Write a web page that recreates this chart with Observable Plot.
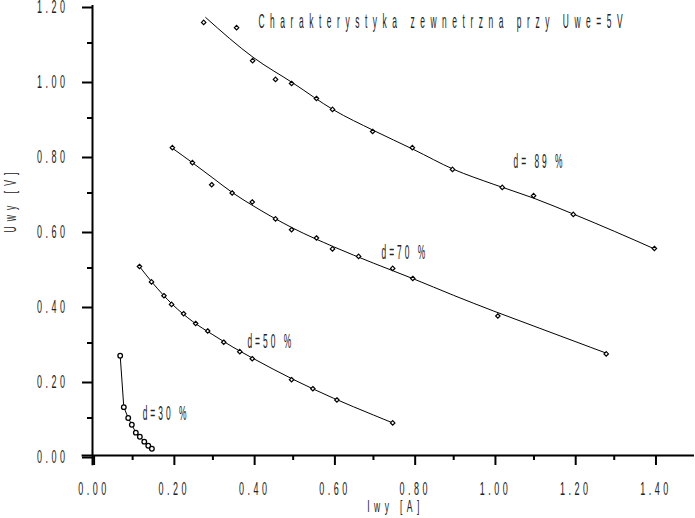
<!DOCTYPE html>
<html><head><meta charset="utf-8">
<script src="https://cdn.jsdelivr.net/npm/d3@7"></script>
<script src="https://cdn.jsdelivr.net/npm/@observablehq/plot@0.6"></script>
<style>html,body{margin:0;padding:0;background:#fff;}</style>
</head><body><div id="chart"></div>
<script>
// ---- data ----
const d89X = [0.277, 0.359, 0.399, 0.456, 0.496, 0.558, 0.598, 0.698, 0.797, 0.897, 1.021, 1.099, 1.198, 1.400];
const d89Y = [1.155, 1.141, 1.053, 1.003, 0.992, 0.952, 0.923, 0.864, 0.821, 0.763, 0.715, 0.693, 0.643, 0.552];
const d89FitX = [0.282, 0.40, 0.50, 0.60, 0.70, 0.80, 0.90, 1.00, 1.10, 1.20, 1.30, 1.40];
const d89FitY = [1.168, 1.062, 0.993, 0.922, 0.867, 0.816, 0.763, 0.723, 0.686, 0.643, 0.598, 0.551];

const d70X = [0.199, 0.249, 0.297, 0.348, 0.398, 0.456, 0.496, 0.558, 0.598, 0.663, 0.748, 0.798, 1.010, 1.280];
const d70Y = [0.821, 0.781, 0.722, 0.700, 0.676, 0.631, 0.602, 0.580, 0.551, 0.531, 0.499, 0.472, 0.372, 0.271];
const d70FitX = [0.197, 0.25, 0.30, 0.35, 0.40, 0.50, 0.60, 0.70, 0.80, 0.90, 1.00, 1.10, 1.20, 1.28];
const d70FitY = [0.821, 0.780, 0.740, 0.700, 0.666, 0.606, 0.557, 0.513, 0.471, 0.427, 0.385, 0.345, 0.305, 0.273];

const d50X = [0.117, 0.147, 0.178, 0.197, 0.227, 0.257, 0.287, 0.327, 0.367, 0.398, 0.496, 0.549, 0.609, 0.748];
const d50Y = [0.504, 0.463, 0.426, 0.403, 0.378, 0.352, 0.332, 0.302, 0.277, 0.258, 0.202, 0.178, 0.148, 0.087];
const d50FitX = [0.117, 0.15, 0.20, 0.25, 0.30, 0.35, 0.40, 0.50, 0.60, 0.70, 0.748];
const d50FitY = [0.504, 0.460, 0.402, 0.357, 0.322, 0.289, 0.259, 0.203, 0.153, 0.108, 0.087];

const d30X = [0.069, 0.078, 0.089, 0.098, 0.108, 0.118, 0.129, 0.139, 0.148];
const d30Y = [0.266, 0.129, 0.100, 0.082, 0.061, 0.050, 0.037, 0.026, 0.018];

const labelText = ["d= 89 %", "d=70 %", "d=50 %", "d=30 %"];
const labelX = [1.049, 0.720, 0.386, 0.125];
const labelY = [0.784, 0.543, 0.305, 0.112];

const titleText = "Charakterystyka zewnetrzna przy Uwe=5V";
const xLabel = "Iwy [A]";
const yLabel = "Uwy [V]";
const xMajor = [0, 0.2, 0.4, 0.6, 0.8, 1.0, 1.2, 1.4];
const xMinor = [0.1, 0.3, 0.5, 0.7, 0.9, 1.1, 1.3];
const yMajor = [0, 0.2, 0.4, 0.6, 0.8, 1.0, 1.2];
const yMinor = [0.1, 0.3, 0.5, 0.7, 0.9, 1.1];

// ---- tables ----
const zip = (name, xs, ys) => xs.map((x, i) => ({s: name, x, y: ys[i]}));
const diamonds = [...zip("89", d89X, d89Y), ...zip("70", d70X, d70Y), ...zip("50", d50X, d50Y)];
const fits = [...zip("89", d89FitX, d89FitY), ...zip("70", d70FitX, d70FitY), ...zip("50", d50FitX, d50FitY)];
const circles = zip("30", d30X, d30Y);
const labels = labelText.map((t, i) => ({t, x: labelX[i], y: labelY[i]}));

const fmt = d => d.toFixed(2);

const chart = Plot.plot({
  width: 695, height: 518,
  marginLeft: 92, marginRight: 1, marginTop: 5, marginBottom: 63,
  style: {fontFamily: "'Liberation Sans', Arial, sans-serif", fontSize: "18px", color: "black", background: "white"},
  x: {domain: [0, 1.5]},
  y: {domain: [0, 1.2]},
  marks: [
    Plot.axisY({ticks: yMajor, tickSize: 10, tickPadding: 14, tickFormat: fmt, strokeWidth: 2, dy: 2, fontSize: 18, label: null, fill: "#222"}),
    Plot.axisY({ticks: yMinor, tickSize: 5, tickFormat: () => "", strokeWidth: 2, label: null}),
    Plot.axisX({ticks: xMajor, tickSize: 10, tickPadding: 17, tickFormat: fmt, strokeWidth: 2, dx: 1.6, fontSize: 18, label: null, fill: "#222"}),
    Plot.axisX({ticks: xMinor, tickSize: 5, tickFormat: () => "", strokeWidth: 2, label: null}),
    Plot.ruleX([0], {y1: -0.027, y2: 1.2, strokeWidth: 2}),
    Plot.ruleY([0], {x1: -0.026, x2: 1.5, strokeWidth: 2}),
    Plot.line(fits, {x: "x", y: "y", z: "s", stroke: "black", strokeWidth: 1, curve: "monotone-x"}),
    Plot.line(circles, {x: "x", y: "y", stroke: "black", strokeWidth: 1}),
    Plot.dot(diamonds, {x: "x", y: "y", symbol: "diamond2", r: 2, stroke: "black", fill: "white", strokeWidth: 1.2}),
    Plot.dot(circles, {x: "x", y: "y", symbol: "circle", r: 2.3, stroke: "black", fill: "white", strokeWidth: 1.3}),
    Plot.text(labels, {x: "x", y: "y", text: "t", textAnchor: "start", lineAnchor: "middle", fontSize: 21, fill: "#222", ariaLabel: () => "dlabel"}),
    Plot.text([titleText], {frameAnchor: "top-left", dx: 166, dy: 8, textAnchor: "start", lineAnchor: "top", fontSize: 21, fill: "#222", ariaLabel: () => "title"}),
    Plot.text([xLabel], {frameAnchor: "bottom", dy: 51, dx: 2, lineAnchor: "middle", fontSize: 17, fill: "#222", ariaLabel: () => "xlabel"}),
    Plot.text([yLabel], {frameAnchor: "left", dx: -82, dy: 2, rotate: -90, lineAnchor: "middle", fontSize: 17, fill: "#222", ariaLabel: () => "ylabel"})
  ]
});
document.getElementById("chart").appendChild(chart);

// condense text: narrow glyphs, wide spacing
const cfg = {
  "dlabel": [0.4, 7.5],
  "title": [0.4, 13.9],
  "xlabel": [0.5, 8.8],
  "ylabel": [0.5, 10.2]
};
chart.querySelectorAll("text").forEach(t => {
  let key = t.getAttribute("aria-label");
  if (!cfg[key]) {
    const g = t.closest("g[aria-label]");
    key = g ? g.getAttribute("aria-label") : "";
  }
  const [sx, ls] = cfg[key] || [0.5, 7];
  t.style.letterSpacing = ls + "px";
  const x = +(t.getAttribute("x") || 0);
  const tr = t.getAttribute("transform") || "";
  t.setAttribute("transform", `${tr} translate(${x},0) scale(${sx},1) translate(${-x},0)`);
});
</script>
</body></html>
